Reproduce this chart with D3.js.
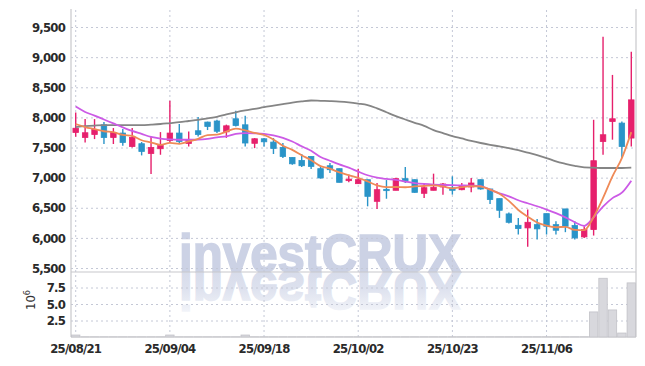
<!DOCTYPE html>
<html>
<head>
<meta charset="utf-8">
<script src="https://cdn.jsdelivr.net/npm/d3@7/dist/d3.min.js"></script>
<style>
	html, body { margin: 0; padding: 0; background: #fff; }
	svg { display: block; }
	text { font-family: 'DejaVu Sans Condensed', 'Liberation Sans', sans-serif; }
</style>
</head>
<body>
<svg id="svg" width="645" height="366"></svg>
<script>
const dates = [
	'25/08/21', '25/08/22', '25/08/25', '25/08/26', '25/08/27', '25/08/28', '25/08/29', '25/09/01', '25/09/02', '25/09/03',
	'25/09/04', '25/09/05', '25/09/08', '25/09/09', '25/09/10', '25/09/11', '25/09/12', '25/09/15', '25/09/16', '25/09/17',
	'25/09/18', '25/09/19', '25/09/22', '25/09/23', '25/09/24', '25/09/25', '25/09/26', '25/09/29', '25/09/30', '25/10/01',
	'25/10/02', '25/10/10', '25/10/13', '25/10/14', '25/10/15', '25/10/16', '25/10/17', '25/10/20', '25/10/21', '25/10/22',
	'25/10/23', '25/10/24', '25/10/27', '25/10/28', '25/10/29', '25/10/30', '25/10/31', '25/11/03', '25/11/04', '25/11/05',
	'25/11/06', '25/11/07', '25/11/10', '25/11/11', '25/11/12', '25/11/13', '25/11/14', '25/11/17', '25/11/18', '25/11/19'
]

const opens = [
	7750, 7667, 7716, 7877, 7667, 7740, 7517, 7563, 7401, 7480,
	7617, 7740, 7567, 7778, 7922, 7940, 7760, 7977, 7877, 7570,
	7645, 7590, 7501, 7335, 7285, 7352, 7149, 7198, 7149, 6950,
	6900, 6966, 6607, 6806, 6790, 6983, 6966, 6740, 6790, 6845,
	6830, 6800, 6845, 6966, 6812, 6652, 6398, 6209, 6166, 6220,
	6403, 6220, 6481, 6205, 6017, 6138, 7600, 7932, 7905, 7657
]
const highs = [
	8080, 7972, 7972, 7922, 7823, 7806, 7823, 7591, 7673, 7756,
	8275, 7890, 7767, 8005, 7930, 7960, 7880, 8110, 8026, 7657,
	7657, 7657, 7574, 7340, 7392, 7352, 7187, 7243, 7149, 7050,
	7149, 6966, 6911, 6960, 7000, 7177, 6970, 6911, 7066, 6911,
	7022, 6911, 6994, 6970, 6812, 6652, 6420, 6332, 6470, 6315,
	6403, 6277, 6481, 6277, 6193, 7960, 9340, 8705, 7930, 9090
]
const lows = [
	7680, 7584, 7640, 7558, 7558, 7530, 7502, 7369, 7061, 7380,
	7575, 7560, 7517, 7684, 7790, 7740, 7660, 7850, 7517, 7490,
	7517, 7392, 7325, 7215, 7177, 7144, 6983, 7077, 6922, 6922,
	6900, 6524, 6481, 6650, 6790, 6911, 6750, 6663, 6790, 6718,
	6718, 6790, 6756, 6800, 6564, 6332, 6240, 6056, 5852, 5973,
	6056, 6056, 6095, 5973, 6000, 6039, 7380, 7630, 7326, 7518
]
const closes = [
	7820, 7745, 7799, 7667, 7750, 7584, 7667, 7435, 7501, 7535,
	7740, 7600, 7628, 7717, 7850, 7770, 7860, 7865, 7575, 7645,
	7595, 7485, 7352, 7230, 7198, 7187, 6995, 7132, 6922, 6975,
	6966, 6690, 6800, 6784, 6983, 6950, 6756, 6833, 6840, 6895,
	6790, 6855, 6911, 6812, 6636, 6458, 6259, 6155, 6259, 6150,
	6193, 6127, 6193, 6000, 6138, 7281, 7712, 7977, 7518, 8291
]
// volume in millions of shares
const volumes = [
	0.3, 0.02, 0.02, 0.02, 0.02, 0.02, 0.02, 0.02, 0.02, 0.02,
	0.3, 0.02, 0.02, 0.02, 0.02, 0.02, 0.02, 0.02, 0.3, 0.02,
	0.02, 0.02, 0.02, 0.02, 0.02, 0.02, 0.02, 0.02, 0.02, 0.02,
	0.02, 0.02, 0.02, 0.02, 0.02, 0.02, 0.02, 0.02, 0.02, 0.02,
	0.02, 0.02, 0.02, 0.02, 0.02, 0.02, 0.02, 0.02, 0.02, 0.02,
	0.02, 0.02, 0.02, 0.02, 0.02, 3.8, 8.9, 4.1, 0.6, 8.2
]

const ma5 = [
	7890, 7840, 7805, 7770, 7756, 7709, 7693, 7621, 7587, 7544,
	7576, 7562, 7601, 7644, 7707, 7713, 7765, 7812, 7784, 7743,
	7708, 7633, 7530, 7461, 7372, 7290, 7192, 7148, 7087, 7042,
	6998, 6937, 6871, 6843, 6845, 6841, 6855, 6861, 6872, 6855,
	6823, 6843, 6858, 6853, 6801, 6734, 6615, 6464, 6353, 6256,
	6203, 6177, 6184, 6133, 6130, 6348, 6665, 7022, 7325, 7756
]
const ma20 = [
	8180, 8090, 8030, 7965, 7900, 7835, 7775, 7725, 7675, 7648,
	7635, 7629, 7629, 7632, 7645, 7670, 7684, 7725, 7740, 7735,
	7725, 7700, 7660, 7600, 7520, 7445, 7342, 7280, 7220, 7165,
	7100, 7040, 7000, 6978, 6962, 6935, 6910, 6895, 6885, 6880,
	6875, 6872, 6868, 6860, 6800, 6740, 6690, 6625, 6575, 6525,
	6470, 6410, 6340, 6260, 6200, 6340, 6520, 6660, 6750, 6950
]
const ma60 = [
	7840, 7855, 7865, 7872, 7872, 7872, 7872, 7872, 7880, 7890,
	7905, 7920, 7940, 7960, 7985, 8010, 8050, 8085, 8115, 8140,
	8170, 8195, 8220, 8245, 8265, 8280, 8275, 8270, 8263, 8250,
	8230, 8205, 8150, 8085, 8020, 7965, 7910, 7860, 7790, 7740,
	7690, 7650, 7610, 7575, 7545, 7518, 7490, 7455, 7415, 7375,
	7325, 7270, 7230, 7195, 7170, 7165, 7160, 7160, 7160, 7165
]

const xTicks = ['25/08/21', '25/09/04', '25/09/18', '25/10/02', '25/10/23', '25/11/06']
const priceTicks = [5500, 6000, 6500, 7000, 7500, 8000, 8500, 9000, 9500]
const volumeTicks = [2.5, 5, 7.5]

const upColor = '#e6206c'
const downColor = '#2a94c8'

const plotLeft = 71
const plotRight = 636
const plotTop = 9
const plotMid = 272
const plotBottom = 337

const $svg = d3.select('#svg')

const x = d3.scaleBand()
	.domain(dates)
	.range([plotLeft, plotRight])
const cx = d => x(d) + x.bandwidth() / 2

const y = d3.scaleLinear()
	.domain([5434, 9799])
	.range([plotMid, plotTop])

const yVol = d3.scaleLinear()
	.domain([0, 9.85])
	.range([plotBottom, plotMid])

const candles = dates.map((date, i) => {
	return {
		date,
		open: opens[i],
		high: highs[i],
		low: lows[i],
		close: closes[i],
		volume: volumes[i]
	}
})

// watermark + reflection
const defs = $svg.append('defs')
const grad = defs.append('linearGradient')
	.attr('id', 'fade')
	.attr('x1', 0).attr('y1', 0).attr('x2', 0).attr('y2', 1)
grad.append('stop').attr('offset', '0%').attr('stop-color', '#fafbfd')
grad.append('stop').attr('offset', '55%').attr('stop-color', '#dde1ee')
grad.append('stop').attr('offset', '100%').attr('stop-color', '#d4d9e9')
defs.append('clipPath')
	.attr('id', 'volClip')
	.append('rect')
	.attr('x', plotLeft).attr('y', plotMid)
	.attr('width', plotRight - plotLeft).attr('height', plotBottom - plotMid)

const mark = (g, fill) => {
	return g.append('text')
		.attr('x', 179)
		.attr('y', plotMid)
		.attr('textLength', 282)
		.attr('lengthAdjust', 'spacingAndGlyphs')
		.attr('fill', fill)
		.attr('stroke', fill)
		.attr('stroke-width', 1.6)
		.style('font-family', "'Liberation Sans', Arial, sans-serif")
		.style('font-weight', 'bold')
		.style('font-size', '54px')
		.text('investCRUX')
}
mark($svg.append('g'), '#ccd2e5')
mark($svg.append('g')
	.attr('clip-path', 'url(#volClip)')
	.append('g')
	.attr('transform', `translate(0, ${2 * plotMid}) scale(1, -1)`), 'url(#fade)')

// grids + labels
const gridStyle = g => {
	g.select('.domain').remove()
	g.selectAll('.tick line')
		.attr('stroke', '#c4c8d6')
		.attr('stroke-dasharray', '2,3')
	g.selectAll('.tick text')
		.attr('fill', '#2a2a2a')
		.style('font-size', '13px')
		.style('font-weight', 'bold')
		.style('letter-spacing', '-0.8px')
}

$svg.append('g')
	.attr('transform', `translate(${plotLeft},0)`)
	.call(d3.axisLeft(y)
		.tickValues(priceTicks)
		.tickSize(-(plotRight - plotLeft))
		.tickPadding(6)
		.tickFormat(d3.format(',')))
	.call(gridStyle)

$svg.append('g')
	.attr('transform', `translate(${plotLeft},0)`)
	.call(d3.axisLeft(yVol)
		.tickValues(volumeTicks)
		.tickSize(-(plotRight - plotLeft))
		.tickPadding(6)
		.tickFormat(d3.format('.1f')))
	.call(gridStyle)

$svg.append('g')
	.attr('transform', `translate(0,${plotBottom})`)
	.call(d3.axisBottom(x)
		.tickValues(xTicks)
		.tickSize(-(plotBottom - plotTop))
		.tickPadding(7))
	.call(gridStyle)

const unit = $svg.append('text')
	.attr('transform', 'translate(35,300) rotate(-90)')
	.attr('text-anchor', 'middle')
	.attr('fill', '#333')
	.style('font-size', '13px')
unit.append('tspan').text('10')
unit.append('tspan').attr('dy', -5).style('font-size', '9px').text('6')

// frame
const frame = $svg.append('g')
	.attr('stroke', '#c8c8cc')
	.attr('stroke-width', 1.2)
frame.append('line').attr('x1', plotLeft).attr('x2', plotLeft).attr('y1', plotTop).attr('y2', plotBottom)
frame.append('line').attr('x1', plotRight).attr('x2', plotRight).attr('y1', plotTop).attr('y2', plotBottom)
frame.append('line').attr('x1', plotLeft).attr('x2', plotRight).attr('y1', plotMid).attr('y2', plotMid)
frame.append('line').attr('x1', plotLeft).attr('x2', plotRight).attr('y1', plotBottom).attr('y2', plotBottom)

// volume bars
$svg.append('g')
	.selectAll('rect')
	.data(candles)
	.join('rect')
	.attr('x', d => x(d.date) + 0.5)
	.attr('width', x.bandwidth() - 1)
	.attr('y', d => yVol(d.volume))
	.attr('height', d => plotBottom - yVol(d.volume))
	.attr('fill', '#d8d8dd')
	.attr('stroke', '#c2c2c8')
	.attr('stroke-width', 0.8)

// candles
const color = d => d.close >= d.open ? upColor : downColor
const bodyW = 5.5
const $candles = $svg.append('g')
	.selectAll('g')
	.data(candles)
	.join('g')

$candles.append('line')
	.attr('x1', d => cx(d.date))
	.attr('x2', d => cx(d.date))
	.attr('y1', d => y(d.high))
	.attr('y2', d => y(d.low))
	.attr('stroke', color)
	.attr('stroke-width', 1.4)

$candles.append('rect')
	.attr('x', d => cx(d.date) - bodyW / 2)
	.attr('width', bodyW)
	.attr('y', d => y(Math.max(d.open, d.close)))
	.attr('height', d => Math.max(1, Math.abs(y(d.open) - y(d.close))))
	.attr('fill', color)
	.attr('stroke', color)
	.attr('stroke-width', 0.8)

// moving averages
const drawLine = (values, stroke) => {
	$svg.append('path')
		.datum(values)
		.attr('fill', 'none')
		.attr('stroke', stroke)
		.attr('stroke-width', 1.8)
		.attr('stroke-linejoin', 'round')
		.attr('d', d3.line()
			.x((v, i) => cx(dates[i]))
			.y(v => y(v))
			.curve(d3.curveMonotoneX))
}
drawLine(ma60, '#858585')
drawLine(ma20, '#cc5ae6')
drawLine(ma5, '#ef8a57')
</script>
</body>
</html>
